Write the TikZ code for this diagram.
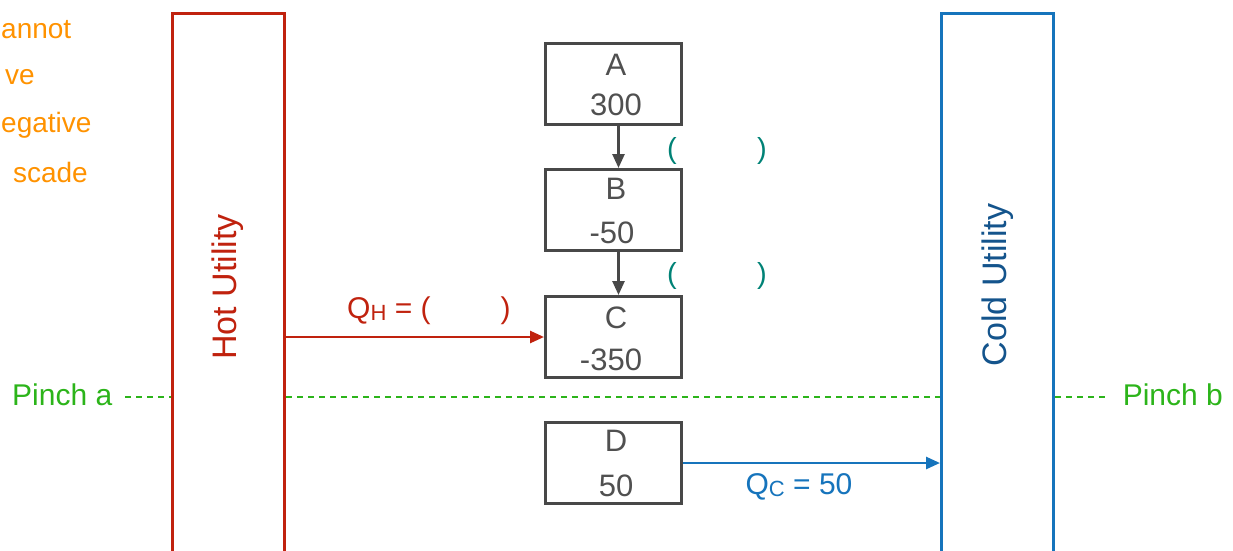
\documentclass[tikz,border=0pt]{standalone}
\usepackage{fontspec}
\setmainfont{Liberation Sans}
\usetikzlibrary{arrows.meta}
\definecolor{orng}{RGB}{255,146,0}
\definecolor{pgreen}{RGB}{44,180,26}
\definecolor{hotred}{RGB}{192,34,14}
\definecolor{coldblue}{RGB}{22,116,188}
\definecolor{colddark}{RGB}{20,84,140}
\definecolor{tealc}{RGB}{0,130,118}
\definecolor{boxgray}{RGB}{72,72,72}
\definecolor{txtgray}{RGB}{80,80,80}
\newcommand{\subsc}[1]{\raisebox{-1.5pt}{\fontsize{22}{22}\selectfont #1}}
\tikzset{
  x=1pt, y=-1pt,
  stagebox/.style={draw=boxgray, line width=3pt, minimum width=136pt, minimum height=81pt, inner sep=0pt},
  stagetxt/.style={text=txtgray, font=\fontsize{31}{31}\selectfont, inner sep=0pt},
  utilbox/.style={line width=3pt, minimum width=112pt, minimum height=560pt, inner sep=0pt},
  pinchline/.style={draw=pgreen, line width=2.6pt, dash pattern=on 6pt off 5pt},
  pinchtxt/.style={text=pgreen, font=\fontsize{30}{30}\selectfont, inner sep=0pt},
  orngtxt/.style={text=orng, font=\fontsize{28}{28}\selectfont, inner sep=0pt},
  flow/.style={line width=2.6pt, -{Triangle[length=14pt,width=12pt]}},
  paren/.style={text=tealc, font=\fontsize{29}{29}\selectfont, inner sep=0pt},
}
\begin{document}
\begin{tikzpicture}
\useasboundingbox (0,0) rectangle (1233,550);
\clip (0,0) rectangle (1233,550);
% left orange text (visible parts)
\node[orngtxt, anchor=west] (o1) at (1,30) {annot};
\node[orngtxt, anchor=east] (o2) at (35,77) {ve};
\node[orngtxt, anchor=west] (o3) at (1,125) {egative};
\node[orngtxt, anchor=east] (o4) at (88,172) {scade};
% utilities
\node[utilbox, draw=hotred, anchor=north west] (hot) at (171,12) {};
\node[utilbox, draw=coldblue, anchor=north west] (cold) at (940,12) {};
\node[rotate=90, text=hotred, font=\fontsize{34}{34}\selectfont, inner sep=0pt] (hott) at (228,287) {Hot Utility};
\node[rotate=90, text=colddark, font=\fontsize{34}{34}\selectfont, inner sep=0pt] (coldt) at (998,285) {Cold Utility};
% stage boxes
\node[stagebox, anchor=north west] (A) at (544,42) {};
\node[stagebox, anchor=north west] (B) at (544,168) {};
\node[stagebox, anchor=north west] (C) at (544,295) {};
\node[stagebox, anchor=north west] (D) at (544,421) {};
\node[stagetxt] (A1) at (616,65) {A};
\node[stagetxt] (A2) at (616,105) {300};
\node[stagetxt] (B1) at (616,189) {B};
\node[stagetxt] (B2) at (612,233) {-50};
\node[stagetxt] (C1) at (616,318) {C};
\node[stagetxt] (C2) at (611,360) {-350};
\node[stagetxt] (D1) at (616,441) {D};
\node[stagetxt] (D2) at (616,486) {50};
% cascade arrows
\draw[flow, draw=boxgray, fill=boxgray] ([xshift=5pt]A.south) -- ([xshift=5pt]B.north);
\draw[flow, draw=boxgray, fill=boxgray] ([xshift=5pt]B.south) -- ([xshift=5pt]C.north);
\node[paren] (p1) at (672,151) {(};
\node[paren] (p2) at (762,151) {)};
\node[paren] (p3) at (672,276) {(};
\node[paren] (p4) at (762,276) {)};
% Q_H
\draw[flow, draw=hotred, fill=hotred] (hot.east |- C.west) -- (C.west);
\node[text=hotred, font=\fontsize{30}{30}\selectfont, inner sep=0pt, anchor=west] (qh) at (347,311) {Q\subsc{H} = (\hspace{70pt})};
% Q_C
\draw[flow, draw=coldblue, fill=coldblue] (D.east) -- (D.east -| cold.west);
\node[text=coldblue, font=\fontsize{30}{30}\selectfont, inner sep=0pt] (qc) at (799,487) {Q\subsc{C} = 50};
% pinch
\node[pinchtxt, anchor=west] (pa) at (12,395) {Pinch a};
\node[pinchtxt, anchor=east] (pb) at (1223,395) {Pinch b};
\coordinate (pl) at (125,397);
\coordinate (pr) at (1106,397);
\draw[pinchline] (pl) -- (pl -| hot.west);
\draw[pinchline] (pl -| hot.east) -- (pl -| cold.west);
\draw[pinchline] (pl -| cold.east) -- (pr);
\end{tikzpicture}
\end{document}
